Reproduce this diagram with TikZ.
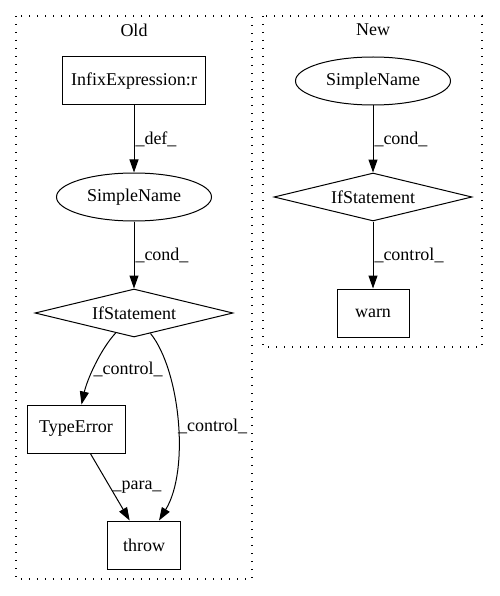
\documentclass[tikz,border=0pt]{standalone}
\usepackage{fontspec}
\setmainfont{Liberation Serif}
\usetikzlibrary{shapes.geometric,arrows.meta,positioning}

\begin{document}
\begin{tikzpicture}[x=1pt, y=-1pt, font=\fontsize{18}{22}\selectfont,
	box/.style={draw, line width=1pt, rectangle, inner sep=0pt, minimum height=48pt},
	oval/.style={draw, line width=1pt, ellipse, inner sep=0pt, minimum width=155pt, minimum height=48pt},
	test/.style={draw, line width=1pt, diamond, aspect=4, inner sep=0pt, minimum width=198pt, minimum height=48pt},
	cluster/.style={draw, line width=1.3pt, dash pattern=on 1.3pt off 6.7pt},
	flow/.style={line width=1pt, -{Triangle[length=13pt,width=9pt]}},
	lbl/.style={inner sep=0pt, anchor=west}]
		\useasboundingbox (0,0) rectangle (499,596);
		% Old cluster
		\draw[cluster] (16,16) rectangle (252,579);
		\node (oldtitle) at (134,30) {Old};
		\node[box, minimum width=143pt] (infix) at (134,81) {InfixExpression:r};
		\node[oval] (oldname) at (134,197) {SimpleName};
		\node[test] (oldif) at (134,313) {IfStatement};
		\node[box, minimum width=98pt] (typeerr) at (76,429) {TypeError};
		\node[box, minimum width=73pt] (throw) at (144,545) {throw};
		\draw[flow] (infix) -- node[lbl, xshift=1pt] {\_def\_} (oldname);
		\draw[flow] (oldname) -- node[lbl, xshift=1pt] {\_cond\_} (oldif);
		\draw[flow] (oldif) .. controls (100,350) and (87,380) .. node[lbl, pos=0.55] {\_control\_} (typeerr);
		\draw[flow] (oldif) .. controls (180,370) and (190,470) .. node[lbl, pos=0.52] {\_control\_} (throw);
		\draw[flow] (typeerr) -- node[lbl, xshift=2pt] {\_para\_} (throw);
		
		% New cluster
		\draw[cluster] (263,16) rectangle (482,347);
		\node (newtitle) at (373,30) {New};
		\node[oval] (newname) at (373,81) {SimpleName};
		\node[test] (newif) at (373,197) {IfStatement};
		\node[box, minimum width=72pt] (warn) at (373,313) {warn};
		\draw[flow] (newname) -- node[lbl, xshift=1pt] {\_cond\_} (newif);
		\draw[flow] (newif) -- node[lbl, xshift=1pt] {\_control\_} (warn);
		
	\end{tikzpicture}
\end{document}
